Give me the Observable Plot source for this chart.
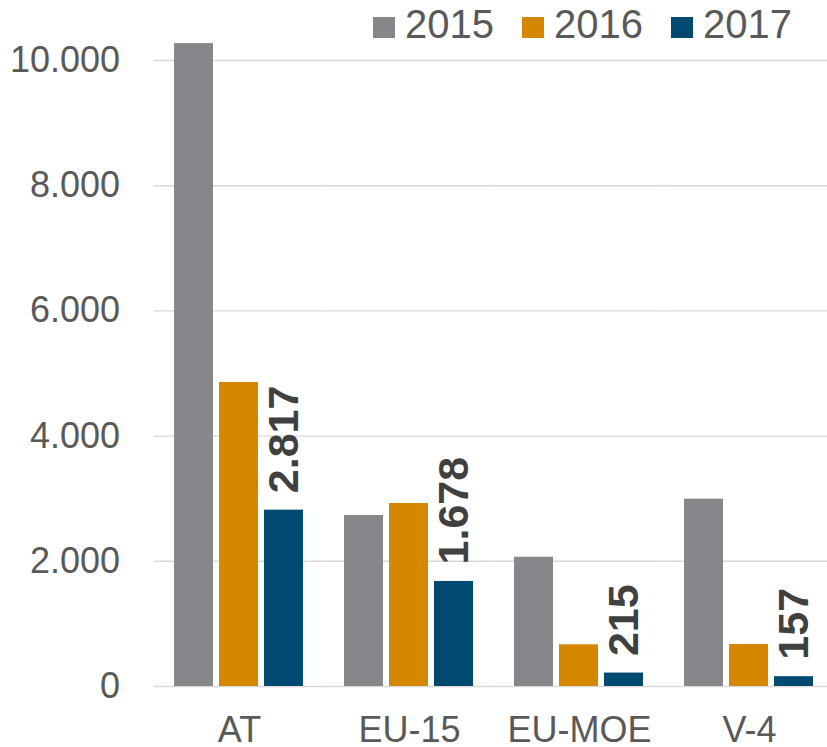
<!DOCTYPE html>
<html>
<head>
<meta charset="utf-8">
<script src="https://cdn.jsdelivr.net/npm/d3@7"></script>
<script src="https://cdn.jsdelivr.net/npm/@observablehq/plot@0.6"></script>
<style>
  html, body { margin: 0; padding: 0; background: #fff; }
  #wrap { position: relative; width: 827px; height: 747px; font-family: "Liberation Sans", Arial, sans-serif; }
  #legend { position: absolute; left: 0; top: 0; width: 827px; height: 50px; z-index: 2; font-size: 40px; color: #595959; }
  .item { position: absolute; top: 4px; height: 40px; }
  .sw { position: absolute; left: 0; top: 13px; width: 22px; height: 21px; }
  .tx { position: absolute; left: 32px; top: 0; line-height: 40px; white-space: nowrap; }
</style>
</head>
<body>
<div id="wrap"><div id="legend"></div></div>
<script>
const categories = ["AT", "EU-15", "EU-MOE", "V-4"];
const years = ["2015", "2016", "2017"];
const values2015 = [10270, 2732, 2065, 2992];
const values2016 = [4856, 2923, 666, 671];
const values2017 = [2817, 1678, 215, 157];
const yTicks = [0, 2000, 4000, 6000, 8000, 10000];
const colors = ["#87868b", "#d58700", "#004a72"];

const de = d3.formatLocale({decimal: ",", thousands: ".", grouping: [3], currency: ["", " €"]});
const fmt = de.format(",d");

const series = [values2015, values2016, values2017];
const data = [];
categories.forEach((c, i) => years.forEach((y, j) => data.push({cat: c, year: y, value: series[j][i]})));
const labels = data.filter(d => d.year === "2017");

const chart = Plot.plot({
  width: 827,
  height: 747,
  marginLeft: 154,
  marginRight: -8,
  marginTop: 60,
  marginBottom: 61,
  style: {fontFamily: "'Liberation Sans', Arial, sans-serif", background: "white", overflow: "visible"},
  fx: {domain: categories, paddingInner: 0.2235, paddingOuter: 0.1118, label: null, tickSize: 0, tickPadding: 30, fontSize: 36},
  x: {domain: years, paddingInner: 0.13, paddingOuter: 0, axis: null},
  y: {domain: [0, 10000], ticks: yTicks, tickFormat: fmt, tickSize: 0, tickPadding: 53.5, label: null, fontSize: 36},
  color: {domain: years, range: colors},
  marks: [
    Plot.ruleY(yTicks, {stroke: "#d9d9d9", strokeWidth: 1.4, insetLeft: -19.5, insetRight: -19.5}),
    Plot.barY(data, {fx: "cat", x: "year", y: "value", fill: "year"}),
    Plot.text(labels, {fx: "cat", x: "year", y: "value", text: d => fmt(d.value), rotate: -90, textAnchor: "start", lineAnchor: "middle", dy: -17, fontSize: 43, fontWeight: "bold", fill: "#404040"})
  ]
});

chart.querySelectorAll("g[aria-label^='fx-axis'], g[aria-label^='y-axis']").forEach(g => { g.setAttribute("fill", "#595959"); g.setAttribute("font-size", "36"); });

document.getElementById("wrap").prepend(chart);
chart.style.position = "absolute"; chart.style.left = "0"; chart.style.top = "0";

const legend = document.getElementById("legend");
const legendLeft = [373, 522, 671];
years.forEach((y, i) => {
  const item = document.createElement("div");
  item.className = "item";
  item.style.left = legendLeft[i] + "px";
  const sw = document.createElement("div");
  sw.className = "sw";
  sw.style.background = colors[i];
  const tx = document.createElement("span");
  tx.className = "tx";
  tx.textContent = y;
  item.appendChild(sw); item.appendChild(tx);
  legend.appendChild(item);
});
</script>
</body>
</html>
